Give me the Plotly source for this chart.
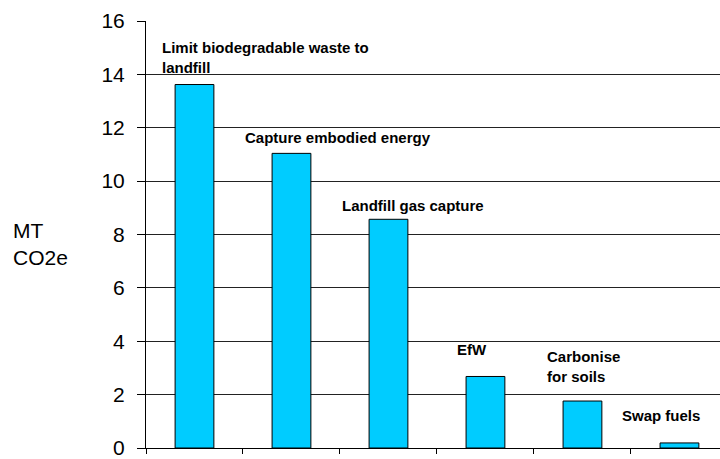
import plotly.graph_objects as go

# ---- data ----
categories = [
    "Limit biodegradable waste to<br>landfill",
    "Capture embodied energy",
    "Landfill gas capture",
    "EfW",
    "Carbonise<br>for soils",
    "Swap fuels",
]
values = [13.62, 11.04, 8.57, 2.68, 1.76, 0.19]
y_ticks = [0, 2, 4, 6, 8, 10, 12, 14, 16]
y_title = "MT<br>CO2e"

# ---- label placement (category offset, y in data units) ----
label_dx = [0.145, 0.001, 0.001, 0.186, 0.114, -0.112]
label_y = [14.65, 11.63, 9.08, 3.70, 3.07, 1.20]

FONT = "Arial, Liberation Sans, sans-serif"

fig = go.Figure()
fig.add_trace(go.Bar(
    x=list(range(len(categories))),
    y=values,
    width=0.4,
    marker=dict(color="#00CCFF", line=dict(color="#000000", width=1)),
    showlegend=False,
    hoverinfo="skip",
))

annotations = []
for i, (txt, dx, yy) in enumerate(zip(categories, label_dx, label_y)):
    annotations.append(dict(
        x=i - 0.5 + dx, y=yy, xref="x", yref="y",
        text="<b>" + txt + "</b>", showarrow=False,
        xanchor="left", yanchor="middle", align="left",
        font=dict(family=FONT, size=15, color="#000000"),
    ))
annotations.append(dict(
    x=-0.236, y=0.478, xref="paper", yref="paper",
    text=y_title, showarrow=False, xanchor="left", yanchor="middle",
    align="left", font=dict(family=FONT, size=21, color="#000000"),
))

fig.update_layout(
    width=720, height=459,
    margin=dict(l=146, r=0, t=21, b=11),
    paper_bgcolor="white", plot_bgcolor="white",
    font=dict(family=FONT, color="#000000"),
    annotations=annotations,
    bargap=0.6,
)
fig.update_xaxes(
    range=[-0.5, 5.418],
    showticklabels=False,
    showline=True, linecolor="#000000", linewidth=1,
    ticks="outside", ticklen=5, tickcolor="#000000",
    tickvals=[-0.5, 0.5, 1.5, 2.5, 3.5, 4.5, 5.5],
    showgrid=False, zeroline=False,
)
fig.update_yaxes(
    range=[0, 16],
    tickvals=y_ticks,
    tickfont=dict(family=FONT, size=21, color="#000000"),
    showline=True, linecolor="#000000", linewidth=1,
    ticks="outside", ticklen=8, tickcolor="#000000",
    showgrid=True, gridcolor="#222222", gridwidth=1,
    zeroline=False,
    ticklabelstandoff=8,
    ticklabeloverflow="allow",
    automargin=False,
)

fig.write_html(
    "out.html",
    config={"displayModeBar": False},
    post_script="document.body.style.margin='0';document.body.style.overflow='hidden';",
)
